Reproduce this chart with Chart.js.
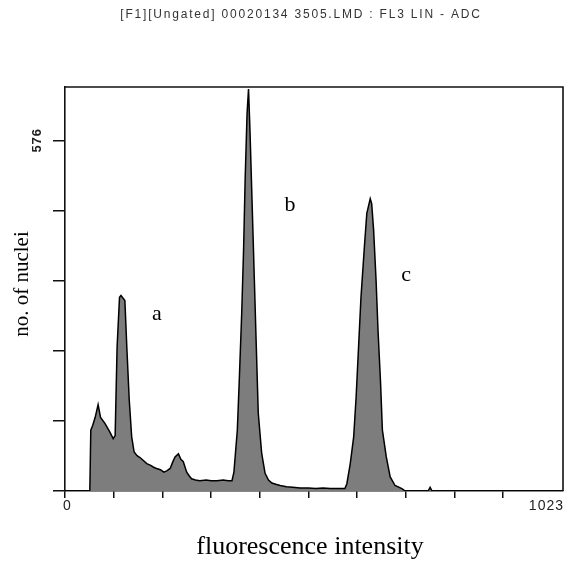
<!DOCTYPE html>
<html>
<head>
<meta charset="utf-8">
<script src="https://cdn.jsdelivr.net/npm/chart.js@4/dist/chart.umd.min.js"></script>
<style>
  html, body { margin: 0; padding: 0; background: #ffffff; }
  #wrap { width: 565px; height: 562px; }
</style>
</head>
<body>
<div id="wrap"><canvas id="c" width="565" height="562"></canvas></div>
<script>
// ---- data ----
const channels = [0, 51, 53, 57, 62, 68, 73, 82, 92, 99, 103, 107, 112, 115, 123, 127, 132, 137, 142, 148, 154, 161, 168, 176, 182, 188, 196, 203, 209, 216, 221, 226, 233, 238, 243, 250, 255, 260, 268, 277, 290, 300, 312, 325, 335, 343, 347, 354, 358, 363, 367, 370, 374, 377, 380, 384, 389, 393, 397, 404, 411, 418, 425, 433, 442, 455, 468, 483, 500, 515, 530, 545, 560, 575, 579, 586, 593, 598, 603, 608, 615, 620, 627, 630, 634, 639, 643, 648, 652, 660, 668, 678, 692, 699, 746, 750, 754, 1023];
const counts   = [0, 0, 100, 108, 121, 142, 121, 111, 97, 86, 91, 236, 318, 321, 313, 236, 149, 89, 64, 58, 55, 50, 45, 42, 39, 37, 35, 31, 33, 37, 47, 56, 61, 52, 48, 31, 25, 20, 18, 17, 18, 17, 17, 18, 17, 17, 31, 100, 182, 292, 401, 510, 620, 660, 592, 483, 346, 236, 128, 62, 29, 18, 13, 11, 9, 7, 6, 5, 5, 4, 5, 4, 4, 4, 12, 45, 89, 154, 236, 318, 401, 456, 480, 472, 428, 346, 264, 182, 100, 56, 23, 9, 4, 0, 0, 6, 0, 0];

const xTickValues = [0, 100, 200, 300, 400, 500, 600, 700, 800, 900, 1023];
const xTickLabels = ['0', '1023'];
const yTickValues = [0, 115.2, 230.4, 345.6, 460.8, 576];
const yTickLabel = '576';
const peakNames = ['a', 'b', 'c'];
const peakX = [189, 462, 701];
const peakY = [291, 469, 354];

const titleText = '[F1][Ungated] 00020134 3505.LMD : FL3 LIN - ADC';
const xTitle = 'fluorescence intensity';
const yTitle = 'no. of nuclei';

const points = channels.map((c, i) => ({ x: c, y: counts[i] }));

const decor = {
  id: 'decor',
  afterDraw(chart) {
    const ctx = chart.ctx;
    const a = chart.chartArea;
    const xs = chart.scales.x, ys = chart.scales.y;
    ctx.save();
    // frame top & right
    ctx.strokeStyle = '#111';
    ctx.lineWidth = 1.6;
    ctx.beginPath();
    ctx.moveTo(a.left, a.top);
    ctx.lineTo(a.right, a.top);
    ctx.lineTo(a.right, a.bottom);
    ctx.stroke();

    // title
    ctx.fillStyle = '#333';
    ctx.font = '12px "Liberation Sans", Arial, sans-serif';
    ctx.letterSpacing = '1.8px';
    ctx.textAlign = 'center';
    ctx.textBaseline = 'middle';
    ctx.fillText(titleText, 301, 15);

    // x tick labels
    ctx.fillStyle = '#222';
    ctx.font = '14px "Liberation Sans", Arial, sans-serif';
    ctx.letterSpacing = '1px';
    ctx.textBaseline = 'middle';
    ctx.textAlign = 'left';
    ctx.fillText(xTickLabels[0], xs.getPixelForValue(0) - 2, 506);
    ctx.textAlign = 'right';
    ctx.fillText(xTickLabels[1], xs.getPixelForValue(1023) + 1, 506);

    // y tick label (rotated, bold)
    ctx.save();
    ctx.translate(37, ys.getPixelForValue(576));
    ctx.rotate(-Math.PI / 2);
    ctx.font = 'bold 13px "Liberation Sans", Arial, sans-serif';
    ctx.letterSpacing = '1px';
    ctx.textAlign = 'center';
    ctx.textBaseline = 'middle';
    ctx.fillText(yTickLabel, 0, 0);
    ctx.restore();
    ctx.letterSpacing = '0px';

    // axis titles
    ctx.fillStyle = '#000';
    ctx.font = '26px "Liberation Serif", "Times New Roman", serif';
    ctx.textAlign = 'center';
    ctx.textBaseline = 'middle';
    ctx.fillText(xTitle, 310, 547);

    ctx.save();
    ctx.translate(22, 284);
    ctx.rotate(-Math.PI / 2);
    ctx.font = '21px "Liberation Serif", "Times New Roman", serif';
    ctx.fillText(yTitle, 0, 0);
    ctx.restore();

    // peak labels
    ctx.font = '22px "Liberation Serif", "Times New Roman", serif';
    peakNames.forEach((n, i) => {
      ctx.fillText(n, xs.getPixelForValue(peakX[i]), ys.getPixelForValue(peakY[i]));
    });
    ctx.restore();
  }
};

new Chart(document.getElementById('c'), {
  type: 'line',
  data: {
    datasets: [{
      data: points,
      borderColor: '#000',
      borderWidth: 1.5,
      backgroundColor: '#7d7d7d',
      fill: 'origin',
      pointRadius: 0,
      tension: 0
    }]
  },
  options: {
    responsive: false,
    animation: false,
    events: [],
    layout: { padding: { top: 87, right: 2, left: 0, bottom: 0 } },
    plugins: { legend: { display: false }, title: { display: false }, tooltip: { enabled: false } },
    scales: {
      x: {
        type: 'linear',
        min: 0,
        max: 1023,
        afterBuildTicks(s) { s.ticks = xTickValues.map(v => ({ value: v })); },
        afterFit(s) { s.height = 71; },
        ticks: { display: false },
        border: { display: true, color: '#111', width: 1.6 },
        grid: {
          drawOnChartArea: false,
          drawTicks: true,
          tickLength: 7,
          lineWidth: 1.5,
          color: (c) => (c.tick && c.tick.value === 1023) ? 'rgba(0,0,0,0)' : '#111'
        }
      },
      y: {
        min: 0,
        max: 663.5,
        afterBuildTicks(s) { s.ticks = yTickValues.map(v => ({ value: v })); },
        afterFit(s) { s.width = 65; },
        ticks: { display: false },
        border: { display: true, color: '#111', width: 1.6 },
        grid: {
          drawOnChartArea: false,
          drawTicks: true,
          tickLength: 12,
          lineWidth: 1.5,
          color: '#111'
        }
      }
    }
  },
  plugins: [decor]
});
</script>
</body>
</html>
